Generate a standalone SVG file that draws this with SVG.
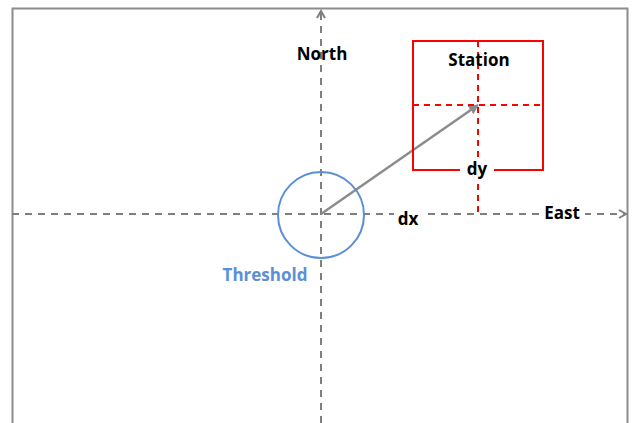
<svg xmlns="http://www.w3.org/2000/svg" width="635" height="423" viewBox="0 0 635 423">
<defs>
<style>
.axis{stroke:#7f7f7f;stroke-width:2;stroke-dasharray:7,6;fill:none}
.red{stroke:#ff0000;stroke-width:2;fill:none}
.reddash{stroke:#ff0000;stroke-width:2;stroke-dasharray:6,5;fill:none}
.lbl{font-family:"Open Sans","Liberation Sans",sans-serif;font-weight:bold;font-size:17px;fill:#000}
</style>
<marker id="ah" viewBox="0 0 10 10" refX="8" refY="5" markerWidth="5" markerHeight="5" orient="auto">
<path d="M1,1 L8,5 L1,9" fill="none" stroke="#7f7f7f" stroke-width="2"/>
</marker>
<marker id="ah2" viewBox="0 0 10 10" refX="9" refY="5" markerWidth="4" markerHeight="4" orient="auto">
<path d="M0,0 L10,5 L0,10 z" fill="#8c8c8c"/>
</marker>
</defs>
<rect width="635" height="423" fill="#fff"/>
<path d="M12.5,423 V8.5 H627.5 V423" fill="none" stroke="#8c8c8c" stroke-width="2"/>
<g id="connectors">
<line class="axis" x1="321" y1="423" x2="321" y2="11" marker-end="url(#ah)"/>
<line class="axis" x1="12" y1="214" x2="626" y2="214" marker-end="url(#ah)"/>
<line x1="321" y1="214" x2="478" y2="105" stroke="#8c8c8c" stroke-width="2.5" marker-end="url(#ah2)"/>
</g>
<g id="station">
<rect class="red" x="413" y="41" width="130" height="129"/>
<line class="reddash" x1="478" y1="41" x2="478" y2="212"/>
<line class="reddash" x1="413" y1="105" x2="543" y2="105"/>
<rect x="460" y="158" width="34" height="24" fill="#fff"/>
<text class="lbl" x="479" y="66" text-anchor="middle">Station</text>
<text class="lbl" x="477" y="175" text-anchor="middle">dy</text>
</g>
<g id="threshold">
<circle cx="321" cy="215" r="43" fill="none" stroke="#5b8fd6" stroke-width="2"/>
<text x="265" y="281" text-anchor="middle" font-family="'Open Sans','Liberation Sans',sans-serif" font-weight="bold" font-size="17" fill="#5b8fd6">Threshold</text>
</g>
<g id="labels">
<rect x="394" y="205" width="30" height="20" fill="#fff"/>
<text class="lbl" x="408" y="225" text-anchor="middle">dx</text>
<rect x="540" y="203" width="45" height="20" fill="#fff"/>
<text class="lbl" x="562" y="219" text-anchor="middle">East</text>
<text class="lbl" x="322" y="60" text-anchor="middle">North</text>
</g>
</svg>
